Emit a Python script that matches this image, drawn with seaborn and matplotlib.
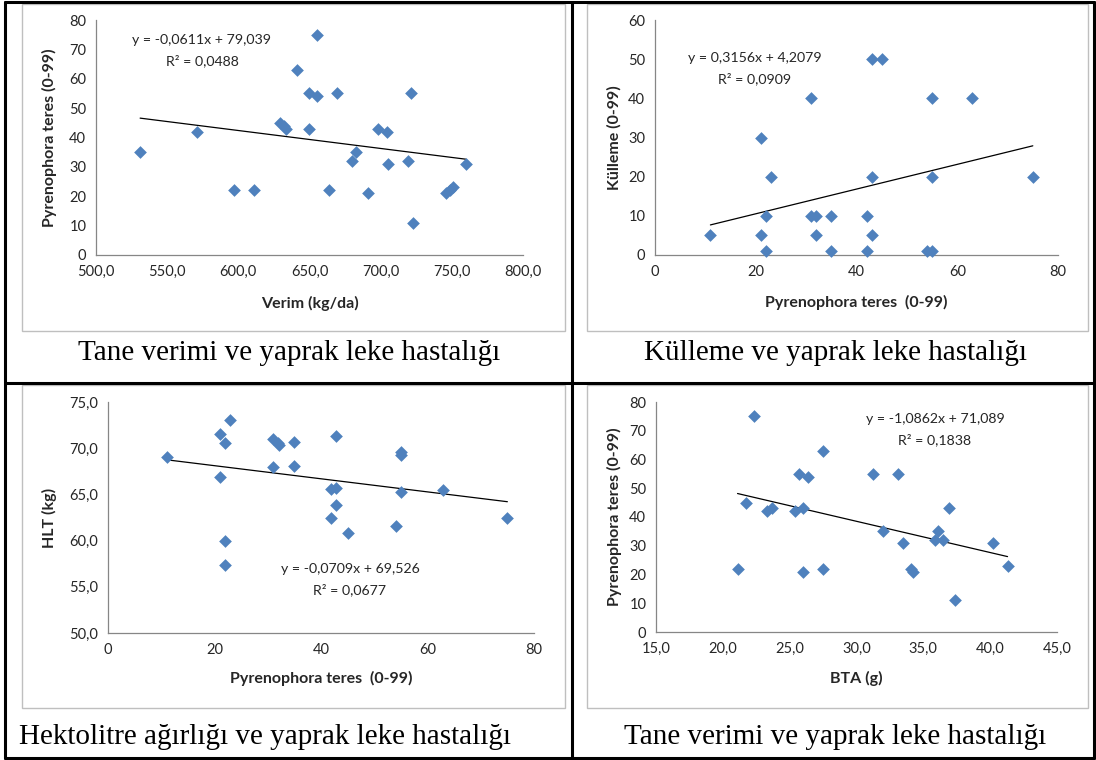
import numpy as np
import pandas as pd
import matplotlib
matplotlib.use("Agg")
import matplotlib.pyplot as plt
from matplotlib.patches import Rectangle
from matplotlib.lines import Line2D
import seaborn as sns

# ---------------- data ----------------
# Panel 1: Verim (kg/da) vs Pyrenophora teres
p1_x = [531, 571, 597, 611, 629, 632, 633.5, 641, 649.5, 649.7, 655, 655.5, 664, 669,
        680, 683, 691, 698, 704.5, 705.4, 719.4, 721.6, 723, 746, 749, 751, 760]
p1_y = [35, 42, 22, 22, 45, 44, 43, 63, 55, 43, 54, 75, 22, 55,
        32, 35, 21, 43, 42, 31, 32, 55, 11, 21, 22, 23, 31]
p1_coef = [-0.0611, 79.039]
p1_eq = ["y = -0,0611x + 79,039", "R² = 0,0488"]

# Panel 2: Pyrenophora teres vs Külleme
p2_x = [11, 21, 21, 22, 22, 23, 31, 31, 32, 32, 35, 35, 42, 42, 43, 43, 43, 45,
        54, 55, 55, 55, 63, 75]
p2_y = [5, 5, 30, 10, 1, 20, 40, 10, 10, 5, 10, 1, 10, 1, 50, 20, 5, 50,
        1, 1, 40, 20, 40, 20]
p2_coef = [0.3156, 4.2079]
p2_eq = ["y = 0,3156x + 4,2079", "R² = 0,0909"]

# Panel 3: Pyrenophora teres vs HLT (kg)
p3_x = [11, 21, 21, 22, 22, 22, 23, 31, 31, 31.9, 32.1, 35, 35, 41.9, 41.9, 42.9, 42.9,
        42.9, 45, 54, 55.1, 55.1, 55.1, 63, 75]
p3_y = [69.1, 71.5, 66.9, 70.6, 60.0, 57.4, 73.1, 71.0, 68.0, 70.6, 70.3, 70.7, 68.1,
        65.6, 62.5, 71.3, 65.7, 63.8, 60.8, 61.6, 69.6, 69.3, 65.3, 65.5, 62.5]
p3_coef = [-0.0709, 69.526]
p3_eq = ["y = -0,0709x + 69,526", "R² = 0,0677"]

# Panel 4: BTA (g) vs Pyrenophora teres
p4_x = [21.1, 21.7, 22.35, 23.3, 23.7, 25.4, 25.7, 26.0, 26.0, 26.4, 27.5, 27.5, 31.2,
        32.0, 33.1, 33.45, 34.1, 34.2, 35.9, 36.1, 36.5, 36.9, 37.4, 40.2, 41.3]
p4_y = [22, 45, 75, 42, 43, 42, 55, 43, 21, 54, 63, 22, 55,
        35, 55, 31, 22, 21, 32, 35, 32, 43, 11, 31, 23]
p4_coef = [-1.0862, 71.089]
p4_eq = ["y = -1,0862x + 71,089", "R² = 0,1838"]

# tick labels
p1_xticks = [500, 550, 600, 650, 700, 750, 800]
p1_xticklabels = ["500,0", "550,0", "600,0", "650,0", "700,0", "750,0", "800,0"]
p1_yticks = [0, 10, 20, 30, 40, 50, 60, 70, 80]
p2_xticks = [0, 20, 40, 60, 80]
p2_yticks = [0, 10, 20, 30, 40, 50, 60]
p3_xticks = [0, 20, 40, 60, 80]
p3_yticks = [50, 55, 60, 65, 70, 75]
p3_yticklabels = ["50,0", "55,0", "60,0", "65,0", "70,0", "75,0"]
p4_xticks = [15, 20, 25, 30, 35, 40, 45]
p4_xticklabels = ["15,0", "20,0", "25,0", "30,0", "35,0", "40,0", "45,0"]
p4_yticks = [0, 10, 20, 30, 40, 50, 60, 70, 80]

captions = ["Tane verimi ve yaprak leke hastalığı",
            "Külleme ve yaprak leke hastalığı",
            "Hektolitre ağırlığı ve yaprak leke hastalığı",
            "Tane verimi ve yaprak leke hastalığı"]

xlabels = ["Verim (kg/da)", "Pyrenophora teres  (0-99)",
           "Pyrenophora teres  (0-99)", "BTA (g)"]
ylabels = ["Pyrenophora teres (0-99)", "Külleme (0-99)",
           "HLT (kg)", "Pyrenophora teres (0-99)"]

# ---------------- style ----------------
sns.set_style("white")
plt.rcParams['font.family'] = ['Lato', 'DejaVu Sans']

W, H = 1096, 760
fig = plt.figure(figsize=(W / 100, H / 100), dpi=100)
fig.patch.set_facecolor("white")

BLUE = "#4F81BD"
GRAY = "#868686"
TXT = "#262626"


def fx(px):
    return px / W


def fy(py):
    return 1 - py / H


def add_axes(l, r, t, b):
    return fig.add_axes([fx(l), fy(b), fx(r) - fx(l), (b - t) / H])


# chart boxes (light gray frame around each chart)
boxes = [(22, 565, 4, 331), (587, 1088, 4, 331), (22, 565, 385, 708), (587, 1088, 385, 708)]
for (l, r, t, b) in boxes:
    fig.add_artist(Rectangle((fx(l), fy(b)), fx(r) - fx(l), (b - t) / H,
                             transform=fig.transFigure, fill=False,
                             edgecolor="#BFBFBF", linewidth=1.0))

# table lines
lw_tab = 2.2
for (x0, y0, x1, y1) in [(5, 2, 1094, 2), (5, 758, 1094, 758), (5, 2, 5, 758),
                         (1094, 2, 1094, 758), (572, 2, 572, 758), (5, 383, 1094, 383)]:
    fig.add_artist(Line2D([fx(x0), fx(x1)], [fy(y0), fy(y1)], transform=fig.transFigure,
                          color="black", linewidth=lw_tab))

panels = [
    dict(pos=(96, 523, 20, 255), x=p1_x, y=p1_y, coef=p1_coef, eq=p1_eq,
         xlim=(500, 800), ylim=(0, 80), xticks=p1_xticks, xtl=p1_xticklabels,
         yticks=p1_yticks, ytl=None, eqpos=(202, 40, 61), ylab_x=49, xlab_y=303),
    dict(pos=(655, 1058, 20, 255), x=p2_x, y=p2_y, coef=p2_coef, eq=p2_eq,
         xlim=(0, 80), ylim=(0, 60), xticks=p2_xticks, xtl=None,
         yticks=p2_yticks, ytl=None, eqpos=(755, 58, 79), ylab_x=614, xlab_y=302),
    dict(pos=(108, 534, 402, 633), x=p3_x, y=p3_y, coef=p3_coef, eq=p3_eq,
         xlim=(0, 80), ylim=(50, 75), xticks=p3_xticks, xtl=None,
         yticks=p3_yticks, ytl=p3_yticklabels, eqpos=(350, 569, 590), ylab_x=49, xlab_y=678),
    dict(pos=(656, 1057, 402, 632), x=p4_x, y=p4_y, coef=p4_coef, eq=p4_eq,
         xlim=(15, 45), ylim=(0, 80), xticks=p4_xticks, xtl=p4_xticklabels,
         yticks=p4_yticks, ytl=None, eqpos=(935, 419, 440), ylab_x=614, xlab_y=678),
]

for i, p in enumerate(panels):
    l, r, t, b = p["pos"]
    ax = add_axes(l, r, t, b)
    ax.set_facecolor("none")
    df = pd.DataFrame({"x": p["x"], "y": p["y"]})
    sns.scatterplot(data=df, x="x", y="y", ax=ax, marker="D", s=42,
                    color=BLUE, edgecolor=BLUE, linewidth=0, zorder=3, clip_on=False)
    xs = np.array([min(p["x"]), max(p["x"])])
    ys = p["coef"][0] * xs + p["coef"][1]
    sns.lineplot(x=xs, y=ys, ax=ax, color="black", linewidth=0.9, zorder=2)
    ax.set_xlim(*p["xlim"])
    ax.set_ylim(*p["ylim"])
    ax.set_xticks(p["xticks"])
    ax.set_yticks(p["yticks"])
    if p["xtl"] is not None:
        ax.set_xticklabels(p["xtl"])
    if p["ytl"] is not None:
        ax.set_yticklabels(p["ytl"])
    for s in ["top", "right"]:
        ax.spines[s].set_visible(False)
    for s in ["left", "bottom"]:
        ax.spines[s].set_color(GRAY)
        ax.spines[s].set_linewidth(0.9)
    ax.tick_params(axis="both", direction="out", length=4, width=0.9, color=GRAY,
                   labelsize=10.5, labelcolor=TXT, pad=3)
    ax.set_xlabel("")
    ax.set_ylabel("")
    ax.grid(False)
    # axis labels (placed in figure coords)
    fig.text(fx((l + r) / 2), fy(p["xlab_y"]), xlabels[i], ha="center", va="center",
             fontsize=11.5, fontweight="bold", color=TXT)
    fig.text(fx(p["ylab_x"]), fy((t + b) / 2), ylabels[i], ha="center", va="center",
             rotation=90, fontsize=11.5, fontweight="bold", color=TXT)
    ex, ey1, ey2 = p["eqpos"]
    fig.text(fx(ex), fy(ey1), p["eq"][0], ha="center", va="center", fontsize=10.2, color=TXT)
    fig.text(fx(ex), fy(ey2), p["eq"][1], ha="center", va="center", fontsize=10.2, color=TXT)

# captions
cap_pos = [(289, 353), (835, 353), (265, 737), (835, 737)]
for (cx, cy), c in zip(cap_pos, captions):
    fig.text(fx(cx), fy(cy), c, ha="center", va="center", fontsize=21,
             family=["Liberation Serif", "DejaVu Serif"], color="black")

fig.savefig("out.png", dpi=100)
